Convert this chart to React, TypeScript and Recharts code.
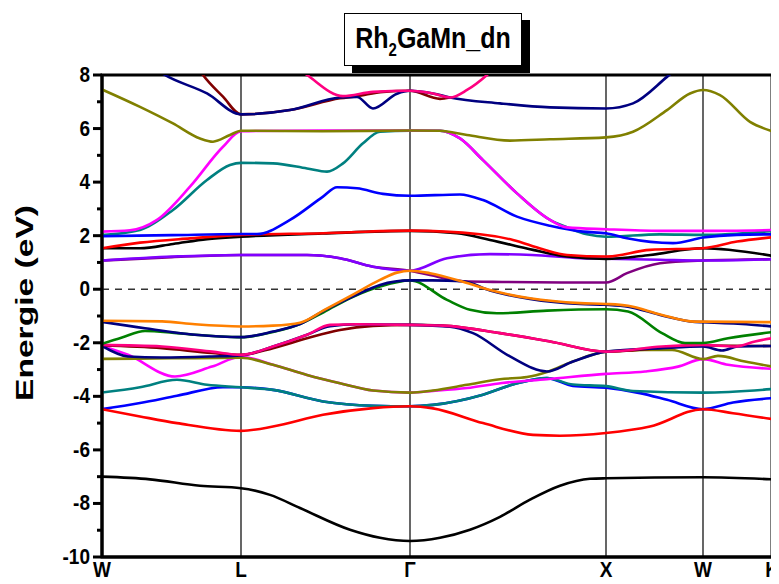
import React from "react";
import {
  LineChart,
  Line,
  XAxis,
  YAxis,
  ReferenceLine,
  ReferenceArea,
} from "recharts";

// high symmetry points along the path (k in path units)
const kPoints = [0, 1.39, 3.08, 5.04, 6.01, 6.7];
const kLabels = ["W", "L", "Γ", "X", "W", "K"];
const energyTicks = [-10, -9, -8, -7, -6, -5, -4, -3, -2, -1, 0, 1, 2, 3, 4, 5, 6, 7, 8];

// bands, [k, E(eV)]
const blackLow = [[0, -7.0], [0.48, -7.1], [0.98, -7.34], [1.39, -7.43], [1.68, -7.68], [1.98, -8.17], [2.48, -8.98], [2.78, -9.28], [3.08, -9.4], [3.38, -9.28], [3.68, -8.98], [3.98, -8.5], [4.28, -7.86], [4.58, -7.34], [4.88, -7.08], [5.04, -7.06], [6.01, -7.02], [6.7, -7.1]];
const redLow = [[0, -4.48], [0.38, -4.75], [0.75, -5.0], [1.39, -5.29], [1.71, -5.13], [2.21, -4.69], [2.71, -4.44], [3.08, -4.37], [3.31, -4.45], [3.81, -5.0], [4.31, -5.44], [4.58, -5.47], [5.04, -5.37], [5.48, -5.13], [6.01, -4.48], [6.31, -4.63], [6.7, -4.85]];
const blueLow = [[0, -4.48], [0.38, -4.25], [0.75, -3.98], [1.21, -3.66], [1.39, -3.66], [1.71, -3.76], [2.21, -4.19], [2.71, -4.35], [3.08, -4.37], [3.31, -4.32], [3.81, -3.94], [4.15, -3.51], [4.45, -3.32], [4.71, -3.61], [5.04, -3.68], [5.38, -3.88], [5.65, -4.13], [6.01, -4.48], [6.31, -4.23], [6.7, -4.07]];
const tealLow = [[0, -3.86], [0.38, -3.66], [0.75, -3.38], [1.05, -3.57], [1.39, -3.66], [1.71, -3.76], [2.21, -4.19], [2.71, -4.35], [3.08, -4.37], [3.31, -4.32], [3.81, -3.94], [4.15, -3.51], [4.45, -3.32], [4.71, -3.56], [5.04, -3.62], [5.31, -3.8], [6.01, -3.86], [6.7, -3.73]];
const oliveLow = [[0, -2.6], [0.7, -2.58], [1.39, -2.56], [1.71, -2.82], [2.05, -3.2], [2.38, -3.51], [2.71, -3.78], [3.08, -3.86], [3.31, -3.78], [3.65, -3.57], [3.98, -3.36], [4.25, -3.28], [4.45, -3.09], [4.71, -2.7], [5.04, -2.33], [5.43, -2.27], [5.7, -2.27], [6.01, -2.61], [6.16, -2.49], [6.43, -2.7], [6.7, -2.89]];
const magentaLow = [[0, -2.12], [0.26, -2.45], [0.73, -3.26], [1.1, -2.89], [1.39, -2.52], [1.71, -2.82], [2.05, -3.2], [2.38, -3.51], [2.71, -3.78], [3.08, -3.86], [3.31, -3.8], [3.65, -3.69], [4.0, -3.5], [4.45, -3.36], [5.04, -3.16], [5.43, -3.07], [5.76, -2.89], [6.01, -2.61], [6.26, -2.82], [6.7, -2.97]];
const wineLow = [[0, -2.1], [0.6, -2.2], [1.1, -2.38], [1.39, -2.45], [1.71, -2.2], [2.05, -1.83], [2.38, -1.52], [2.71, -1.37], [3.08, -1.33], [3.41, -1.36], [3.98, -1.64], [4.48, -1.95], [5.04, -2.33], [6.01, -2.1], [6.7, -2.12]];
const navyLow = [[0, -2.12], [0.26, -2.51], [0.6, -2.55], [1.1, -2.51], [1.39, -2.47], [1.71, -2.14], [2.05, -1.7], [2.28, -1.38], [2.55, -1.31], [3.08, -1.33], [3.48, -1.4], [3.71, -1.64], [4.08, -2.51], [4.45, -3.07], [4.71, -2.7], [5.04, -2.33], [5.6, -2.2], [6.01, -2.14], [6.2, -2.29], [6.36, -2.14], [6.7, -2.12]];
const pinkLow = [[0, -2.08], [0.6, -2.14], [1.1, -2.33], [1.39, -2.45], [1.71, -2.14], [2.05, -1.7], [2.28, -1.33], [2.55, -1.31], [3.08, -1.33], [3.41, -1.36], [3.98, -1.64], [4.48, -1.95], [5.04, -2.33], [5.6, -2.14], [6.01, -2.08], [6.33, -2.14], [6.53, -1.95], [6.7, -1.83]];
const greenMid = [[0, -2.04], [0.2, -1.8], [0.43, -1.56], [0.7, -1.62], [0.93, -1.7], [1.39, -1.79], [1.71, -1.6], [1.98, -1.3], [2.22, -0.85], [2.5, -0.3], [2.78, 0.1], [3.08, 0.33], [3.45, -0.4], [3.68, -0.77], [3.95, -0.9], [4.45, -0.8], [5.04, -0.75], [5.26, -0.83], [5.6, -1.64], [5.83, -2.01], [6.01, -2.01], [6.26, -1.83], [6.7, -1.6]];
const navyMid = [[0, -1.22], [0.43, -1.46], [0.93, -1.7], [1.39, -1.79], [1.71, -1.58], [1.98, -1.3], [2.22, -0.8], [2.55, -0.2], [2.78, 0.16], [3.08, 0.33], [3.3, 0.33], [3.61, 0.3], [3.88, -0.05], [4.28, -0.36], [4.78, -0.55], [5.04, -0.58], [5.26, -0.65], [5.6, -0.98], [5.93, -1.22], [6.01, -1.23], [6.4, -1.3], [6.7, -1.39]];
const orangeMid = [[0, -1.18], [0.6, -1.2], [0.93, -1.31], [1.39, -1.39], [1.71, -1.36], [1.98, -1.25], [2.22, -0.78], [2.5, -0.22], [2.78, 0.35], [2.95, 0.62], [3.08, 0.69], [3.28, 0.6], [3.61, 0.28], [3.88, -0.03], [4.28, -0.34], [4.78, -0.52], [5.04, -0.55], [5.26, -0.62], [5.6, -0.96], [5.93, -1.21], [6.01, -1.21], [6.7, -1.23]];
const purpleMid = [[0, 1.07], [0.7, 1.2], [1.39, 1.28], [2.05, 1.28], [2.38, 1.16], [2.71, 0.84], [3.08, 0.69], [3.28, 0.53], [3.61, 0.3], [4.0, 0.27], [4.6, 0.25], [5.04, 0.25], [5.25, 0.6], [5.58, 0.97], [6.01, 1.07], [6.7, 1.12]];
const violetMid = [[0, 1.07], [0.71, 1.22], [1.39, 1.28], [2.05, 1.28], [2.38, 1.16], [2.71, 0.84], [3.08, 0.69], [3.45, 1.16], [3.88, 1.31], [4.3, 1.28], [4.78, 1.16], [5.04, 1.14], [5.58, 1.1], [6.01, 1.07], [6.7, 1.12]];
const blackMid = [[0, 1.53], [0.38, 1.53], [0.71, 1.69], [1.05, 1.87], [1.39, 1.96], [2.2, 2.08], [3.08, 2.18], [3.55, 2.09], [3.88, 1.84], [4.31, 1.47], [4.65, 1.22], [5.04, 1.13], [5.48, 1.28], [6.01, 1.53], [6.7, 1.25]];
const redMid = [[0, 1.53], [0.38, 1.74], [0.88, 1.9], [1.39, 2.03], [2.21, 2.09], [3.08, 2.19], [3.78, 2.05], [4.11, 1.84], [4.4, 1.5], [4.65, 1.28], [5.04, 1.22], [5.48, 1.47], [6.01, 1.53], [6.35, 1.78], [6.7, 1.94]];
const blueMid = [[0, 1.98], [0.7, 2.02], [1.39, 2.06], [1.55, 2.06], [1.88, 2.59], [2.21, 3.46], [2.35, 3.81], [2.55, 3.77], [2.81, 3.56], [3.08, 3.49], [3.58, 3.54], [3.81, 3.33], [4.15, 2.71], [4.48, 2.37], [4.81, 2.15], [5.04, 2.09], [5.25, 1.9], [5.71, 1.72], [6.01, 1.93], [6.35, 2.03], [6.7, 2.05]];
const tealMid = [[0, 2.02], [0.38, 2.21], [0.71, 2.96], [1.05, 4.08], [1.28, 4.64], [1.39, 4.72], [1.71, 4.7], [2.05, 4.51], [2.25, 4.39], [2.41, 4.7], [2.61, 5.45], [2.78, 5.88], [3.08, 5.92], [3.38, 5.92], [3.58, 5.63], [3.81, 4.82], [4.15, 3.58], [4.48, 2.59], [4.65, 2.31], [4.85, 2.05], [5.04, 1.96], [5.58, 2.05], [6.01, 2.03], [6.7, 2.17]];
const magentaMid = [[0, 2.15], [0.28, 2.2], [0.55, 2.59], [0.88, 3.83], [1.21, 5.32], [1.39, 5.9], [2.2, 5.93], [3.08, 5.93], [3.38, 5.92], [3.58, 5.63], [3.81, 4.82], [4.15, 3.58], [4.48, 2.59], [4.65, 2.31], [5.04, 2.24], [5.58, 2.18], [6.01, 2.18], [6.7, 2.21]];
const oliveHigh = [[0, 7.46], [0.38, 6.81], [0.71, 6.19], [0.98, 5.63], [1.11, 5.51], [1.28, 5.76], [1.39, 5.92], [2.2, 5.9], [3.08, 5.93], [3.38, 5.92], [3.65, 5.76], [4.08, 5.55], [4.48, 5.6], [5.04, 5.67], [5.31, 5.88], [5.65, 6.69], [5.88, 7.31], [6.01, 7.44], [6.18, 7.25], [6.48, 6.25], [6.7, 5.9]];
const wineHigh = [[0.92, 8.5], [1.01, 8.0], [1.21, 7.19], [1.39, 6.53], [1.88, 6.69], [2.38, 7.13], [2.55, 7.21], [2.81, 7.37], [3.08, 7.41], [3.38, 7.11], [3.48, 7.16]];
const navyHigh = [[0.45, 8.45], [0.62, 8.02], [1.05, 7.31], [1.39, 6.53], [1.88, 6.69], [2.38, 7.16], [2.55, 7.18], [2.71, 6.75], [2.95, 7.3], [3.08, 7.41], [3.31, 7.31], [3.48, 7.16], [3.98, 6.94], [4.48, 6.79], [5.04, 6.75], [5.31, 6.94], [5.65, 7.93], [5.8, 8.4]];
const pinkHigh = [[1.9, 8.4], [2.05, 8.0], [2.41, 7.21], [2.71, 7.37], [3.08, 7.41], [3.31, 7.31], [3.48, 7.16], [3.65, 7.44], [3.85, 8.0], [3.95, 8.35]];

const bandColors = {
  black: "#000000",
  red: "#FF0000",
  blue: "#0000FF",
  teal: "#008080",
  magenta: "#FF00FF",
  olive: "#808000",
  navy: "#000080",
  wine: "#800000",
  pink: "#FF0080",
  green: "#008000",
  orange: "#FF8000",
  purple: "#800080",
  violet: "#8000FF",
};

// drawing order: first is at the bottom
const bands = [
  { id: "blackLow", pts: blackLow, color: bandColors.black },
  { id: "purpleMid", pts: purpleMid, color: bandColors.purple },
  { id: "violetMid", pts: violetMid, color: bandColors.violet },
  { id: "blackMid", pts: blackMid, color: bandColors.black },
  { id: "redMid", pts: redMid, color: bandColors.red },
  { id: "blueLow", pts: blueLow, color: bandColors.blue },
  { id: "tealLow", pts: tealLow, color: bandColors.teal },
  { id: "redLow", pts: redLow, color: bandColors.red },
  { id: "magentaLow", pts: magentaLow, color: bandColors.magenta },
  { id: "oliveLow", pts: oliveLow, color: bandColors.olive },
  { id: "wineLow", pts: wineLow, color: bandColors.wine },
  { id: "navyLow", pts: navyLow, color: bandColors.navy },
  { id: "pinkLow", pts: pinkLow, color: bandColors.pink },
  { id: "greenMid", pts: greenMid, color: bandColors.green },
  { id: "navyMid", pts: navyMid, color: bandColors.navy },
  { id: "orangeMid", pts: orangeMid, color: bandColors.orange },
  { id: "tealMid", pts: tealMid, color: bandColors.teal },
  { id: "blueMid", pts: blueMid, color: bandColors.blue },
  { id: "magentaMid", pts: magentaMid, color: bandColors.magenta },
  { id: "oliveHigh", pts: oliveHigh, color: bandColors.olive },
  { id: "wineHigh", pts: wineHigh, color: bandColors.wine },
  { id: "navyHigh", pts: navyHigh, color: bandColors.navy },
  { id: "pinkHigh", pts: pinkHigh, color: bandColors.pink },
];

const font = "'Liberation Sans', Arial, sans-serif";

const YTick = (props: any) => {
  const { x, y, payload } = props;
  const v = payload.value;
  const major = v % 2 === 0;
  return (
    <g>
      <line x1={x - (major ? 9 : 5)} x2={x} y1={y} y2={y} stroke="#000" strokeWidth={3} />
      {major && (
        <text
          x={x - 12}
          y={y + 7}
          textAnchor="end"
          fontFamily={font}
          fontWeight="bold"
          fontSize={19}
          fill="#000"
          transform={`translate(0 ${-(y + 7) * 0.15}) scale(1 1.15)`}
        >
          {v}
        </text>
      )}
    </g>
  );
};

const XTick = (props: any) => {
  const { x, y, index } = props;
  return (
    <text
      x={x}
      y={y + 20}
      textAnchor="middle"
      fontFamily={font}
      fontWeight="bold"
      fontSize={19}
      fill="#000"
      transform={`translate(0 ${-(y + 20) * 0.15}) scale(1 1.15)`}
    >
      {kLabels[index]}
    </text>
  );
};

export default function App() {
  return (
    <div style={{ position: "relative", width: 771, height: 576, background: "#fff" }}>
      <LineChart width={771} height={576} margin={{ top: 67, right: 7, bottom: 0, left: 0 }}>
        <XAxis
          type="number"
          dataKey="k"
          domain={[0, 6.7]}
          ticks={kPoints}
          allowDataOverflow
          tick={<XTick />}
          tickLine={false}
          tickSize={0}
          tickMargin={0}
          height={27}
          axisLine={{ stroke: "#000", strokeWidth: 3 }}
          interval={0}
        />
        <YAxis
          type="number"
          dataKey="e"
          domain={[-10, 8]}
          ticks={energyTicks}
          allowDataOverflow
          tick={<YTick />}
          tickLine={false}
          tickSize={0}
          tickMargin={0}
          width={94}
          axisLine={{ stroke: "#000", strokeWidth: 3 }}
          interval={0}
        />
        {kPoints.slice(1, 5).map((k) => (
          <ReferenceLine key={k} x={k} stroke="#000" strokeWidth={1.2} />
        ))}
        <ReferenceLine y={0} stroke="#333" strokeWidth={1.5} strokeDasharray="7 6" />
        {bands.map((b) => (
          <Line
            key={b.id}
            data={b.pts.map(([k, e]) => ({ k, e }))}
            dataKey="e"
            type="monotone"
            stroke={b.color}
            strokeWidth={2.6}
            dot={false}
            activeDot={false}
            isAnimationActive={false}
          />
        ))}
        <ReferenceArea x1={0} x2={6.7} y1={-10} y2={8} fill="none" stroke="#000" strokeWidth={3} ifOverflow="visible" />
      </LineChart>

      <div
        style={{
          position: "absolute",
          left: 336,
          top: 5,
          width: 176,
          height: 51,
          border: "1px solid #000",
          background: "#fff",
          boxShadow: "8px 7px 0 #000",
          display: "flex",
          alignItems: "center",
          justifyContent: "center",
          fontFamily: font,
          fontWeight: "bold",
          fontSize: 25,
          color: "#000",
        }}
      >
        <span style={{ display: "inline-block", transform: "scaleY(1.2)" }}>
          Rh<sub style={{ fontSize: 15 }}>2</sub>GaMn_dn
        </span>
      </div>

      <div
        style={{
          position: "absolute",
          left: 17,
          top: 295,
          transform: "translate(-50%, -50%) rotate(-90deg) scaleX(1.4)",
          whiteSpace: "nowrap",
          fontFamily: font,
          fontWeight: "bold",
          fontSize: 24,
          color: "#000",
        }}
      >
        Energie (eV)
      </div>
    </div>
  );
}
